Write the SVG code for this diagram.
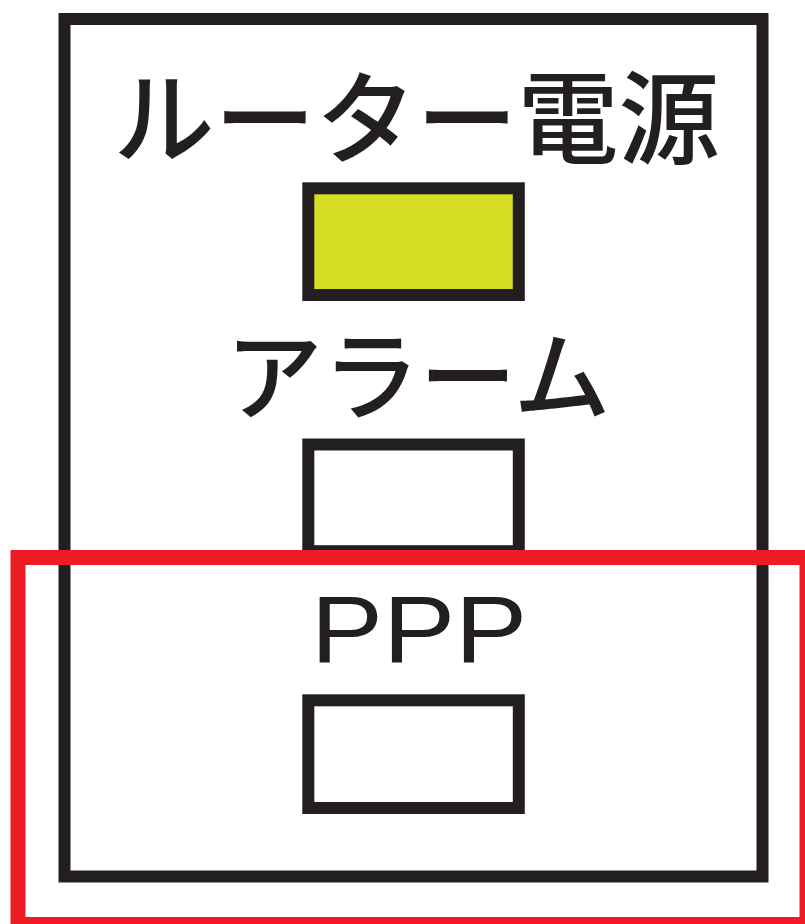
<svg xmlns="http://www.w3.org/2000/svg" width="805" height="924" viewBox="0 0 805 924">
<style>
.frame{fill:none;stroke:#231f20;stroke-width:12}
.lamp{stroke:#231f20;stroke-width:12}
.lbl{font-family:"Noto Sans CJK JP","Noto Sans",sans-serif;font-weight:500;fill:#231f20;text-anchor:middle}
.lat{font-family:"Liberation Sans","Noto Sans",sans-serif;fill:#231f20;text-anchor:middle}
.hl{fill:none;stroke:#ed1c24;stroke-width:15}
</style>
<rect width="805" height="924" fill="#ffffff"/>
<g id="panel">
<rect class="frame" x="64.5" y="19" width="698" height="857.5"/>
</g>
<g id="router-power">
<text class="lbl" x="416.5" y="156" font-size="101">ルーター電源</text>
<rect class="lamp" x="308.3" y="188.3" width="210.5" height="106.7" fill="#d6df23"/>
</g>
<g id="alarm">
<text class="lbl" x="418" y="412" font-size="97">アラーム</text>
<rect class="lamp" x="308.3" y="444.5" width="210.5" height="106.7" fill="#ffffff"/>
</g>
<g id="ppp">
<text class="lat" x="0" y="662" font-size="95" transform="translate(419,0) scale(1.14,1)">PPP</text>
<rect class="lamp" x="308.3" y="700.3" width="210.5" height="107.7" fill="#ffffff"/>
</g>
<g id="highlight">
<rect class="hl" x="18" y="557.5" width="789" height="367"/>
</g>
<g id="connectors"/>
</svg>
